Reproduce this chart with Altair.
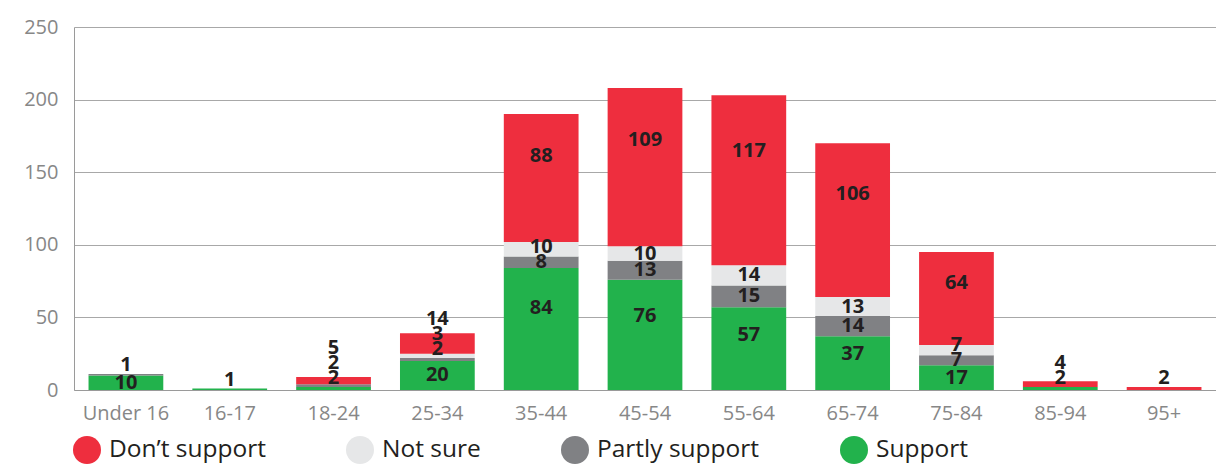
import altair as alt
import pandas as pd

categories = ["Under 16", "16-17", "18-24", "25-34", "35-44", "45-54",
              "55-64", "65-74", "75-84", "85-94", "95+"]
support = [10, 1, 2, 20, 84, 76, 57, 37, 17, 2, 0]
partly = [1, 0, 2, 2, 8, 13, 15, 14, 7, 0, 0]
not_sure = [0, 0, 0, 3, 10, 10, 14, 13, 7, 0, 0]
dont = [0, 0, 5, 14, 88, 109, 117, 106, 64, 4, 2]

statuses = ["Don’t support", "Not sure", "Partly support", "Support"]
colors = ["#EE2E3E", "#E6E7E8", "#808184", "#22B24C"]

# stacking order bottom -> top
stack_series = [("Support", support), ("Partly support", partly),
                ("Not sure", not_sure), ("Don’t support", dont)]

rows = []
for ci, cat in enumerate(categories):
    cum = 0
    prev = -1e9
    for si, (name, vals) in enumerate(stack_series):
        v = vals[ci]
        if v == 0:
            continue
        top = cum + v
        if v >= 30:
            cand = cum + 0.67 * v
        elif v >= 6:
            cand = cum + v / 2
        else:
            cand = top + 6
        pos = max(cand, prev + 10.5)
        prev = pos
        rows.append({"category": cat, "status": name, "value": v,
                     "stack_idx": si, "label_pos": pos})
        cum = top
df = pd.DataFrame(rows)

FONT = "Open Sans"
AXIS_GRAY = "#878787"

xenc = alt.X("category:N", sort=categories, title=None,
             scale=alt.Scale(paddingInner=0.28, paddingOuter=0.14),
             axis=alt.Axis(labelAngle=0, labelFontSize=20, labelColor=AXIS_GRAY,
                           labelFont=FONT, ticks=False, domainColor="#9A9A9A",
                           labelPadding=13, grid=False))

bars = alt.Chart(df).mark_bar().encode(
    x=xenc,
    y=alt.Y("value:Q", stack="zero", title=None,
            scale=alt.Scale(domain=[0, 250], nice=False),
            axis=alt.Axis(values=[0, 50, 100, 150, 200, 250], labelFontSize=20,
                          labelColor=AXIS_GRAY, labelFont=FONT, ticks=False,
                          domainColor="#9A9A9A", gridColor="#A8A8A8",
                          labelPadding=16)),
    color=alt.Color("status:N",
                    scale=alt.Scale(domain=statuses, range=colors),
                    legend=alt.Legend(title=None, orient="none", direction="horizontal",
                                      legendX=-1, legendY=409,
                                      symbolType="circle", symbolSize=784,
                                      symbolStrokeWidth=0, labelFontSize=24.5,
                                      labelFont=FONT, labelColor="#231F20",
                                      labelOffset=8, columnPadding=80,
                                      labelLimit=400)),
    order=alt.Order("stack_idx:Q", sort="ascending"),
)

labels = alt.Chart(df).mark_text(fontSize=20, fontWeight="bold", font=FONT,
                                 color="#231F20", baseline="middle").encode(
    x=alt.X("category:N", sort=categories),
    y=alt.Y("label_pos:Q"),
    text=alt.Text("value:Q"),
)

chart = alt.layer(bars, labels).properties(
    width=1142, height=363,
    autosize=alt.AutoSizeParams(type="none"),
    padding={"left": 66, "top": 19, "right": 0, "bottom": 75},
).configure_view(stroke=None)

chart.save("out.html", embed_options={"renderer": "svg", "actions": False})
